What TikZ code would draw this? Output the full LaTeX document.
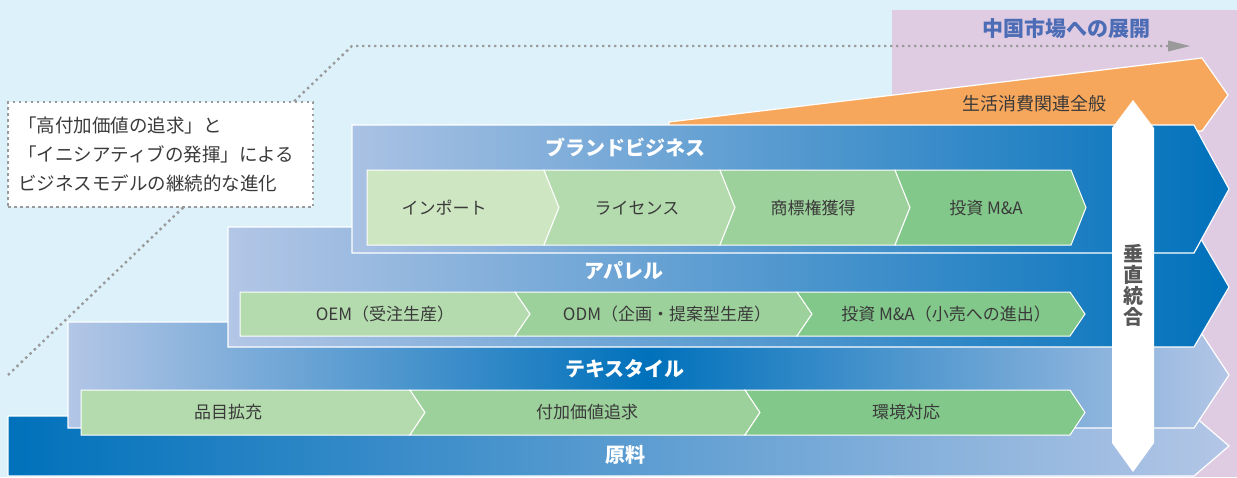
\documentclass[tikz,border=0pt]{standalone}
\usepackage{fontspec}
\setmainfont{Noto Sans CJK JP}
\definecolor{bgblue}{HTML}{DDF1FB}
\definecolor{bgpurple}{HTML}{DFCCE3}
\definecolor{dkblue}{HTML}{0071BB}
\definecolor{ltblue}{HTML}{B3C6E6}
\definecolor{orng}{HTML}{F7A75C}
\definecolor{gA}{HTML}{CFE6C2}
\definecolor{gB}{HTML}{B4DBAE}
\definecolor{gC}{HTML}{9DD19B}
\definecolor{gD}{HTML}{82C88A}
\definecolor{dotgray}{HTML}{9A9A9A}
\definecolor{txtgray}{HTML}{3A3A3A}
\definecolor{titleblue}{HTML}{4C6CB5}
\tikzset{
  layer/.style={draw=white, line width=1.2pt},
  segtext/.style={text=txtgray, font=\fontsize{17}{17}\selectfont, inner sep=0pt},
  laytext/.style={text=white, font=\bfseries\fontsize{20}{20}\selectfont, inner sep=0pt},
  dotline/.style={draw=dotgray, line width=2.4pt, dash pattern=on 2.4pt off 3.6pt},
}
% first segment: straight left edge
\newcommand{\gfirst}[5]{\fill[#1, draw=white, line width=1pt] (#2,#4) -- (#3,#4) -- ({#3+15},{(#4+#5)/2}) -- (#3,#5) -- (#2,#5) -- cycle;}
% later segment: notched left edge
\newcommand{\gnext}[5]{\fill[#1, draw=white, line width=1pt] (#2,#4) -- (#3,#4) -- ({#3+15},{(#4+#5)/2}) -- (#3,#5) -- (#2,#5) -- ({#2+15},{(#4+#5)/2}) -- cycle;}
\begin{document}
\begin{tikzpicture}[x=1pt,y=-1pt]
\useasboundingbox (0,0) rectangle (1237,477);
% backgrounds
\fill[bgblue] (0,0) rectangle (1237,477);
\fill[bgpurple] (892,10) rectangle (1237,477);
\node[font=\bfseries\fontsize{21}{21}\selectfont, text=titleblue, inner sep=0pt] (title) at (1066,29) {中国市場への展開};
% dotted evolution line
\coordinate (ds) at (8,375);
\coordinate (dk) at (352,46);
\coordinate (de) at (1168,46);
\draw[dotline] (ds) -- (dk) -- (de);
\fill[dotgray] (1168,40.5) -- (1190,46) -- (1168,51.5) -- cycle;
% note box
\node[draw=dotgray, line width=2.4pt, dash pattern=on 2.4pt off 3.6pt, fill=white,
      anchor=north west, minimum width=305pt, minimum height=105pt,
      text width=285pt, align=left, inner xsep=10pt, text=txtgray,
      font=\fontsize{18.5}{29}\selectfont] (note) at (7,101)
  {「高付加価値の追求」と\\「イニシアティブの発揮」による\\ビジネスモデルの継続的な進化};
% orange layer
\fill[orng, layer] (669,122) -- (1202,58) -- (1228,95) -- (1202,131) -- (669,131) -- cycle;
\node[segtext, font=\fontsize{18}{18}\selectfont] (life) at (1034,104) {生活消費関連全般};
% raw material layer
\shade[left color=dkblue, right color=ltblue] (8,416) -- (1194,416) -- (1229,446) -- (1194,476) -- (8,476) -- cycle;
\draw[layer] (8,416) -- (1194,416) -- (1229,446) -- (1194,476) -- (8,476) -- cycle;
% textile layer
\shade[left color=ltblue, right color=ltblue, middle color=dkblue] (68,322) -- (1194,322) -- (1229,375) -- (1194,428) -- (68,428) -- cycle;
\draw[layer] (68,322) -- (1194,322) -- (1229,375) -- (1194,428) -- (68,428) -- cycle;
% apparel layer
\shade[left color=ltblue, right color=dkblue] (228,227) -- (1194,227) -- (1229,287) -- (1194,347) -- (228,347) -- cycle;
\draw[layer] (228,227) -- (1194,227) -- (1229,287) -- (1194,347) -- (228,347) -- cycle;
% brand layer
\shade[left color=ltblue!95!dkblue, right color=dkblue] (352,125) -- (1194,125) -- (1229,189) -- (1194,253) -- (352,253) -- cycle;
\draw[layer] (352,125) -- (1194,125) -- (1229,189) -- (1194,253) -- (352,253) -- cycle;
% layer labels
\node[laytext] (brand) at (625,147) {ブランドビジネス};
\node[laytext] (apparel) at (624,271) {アパレル};
\node[laytext] (textile) at (625,369) {テキスタイル};
\node[laytext] (raw) at (625,455) {原料};
% brand row
\gfirst{gA}{367}{544}{170}{245}
\gnext{gB}{544}{720}{170}{245}
\gnext{gC}{720}{895}{170}{245}
\gnext{gD}{895}{1071}{170}{245}
\node[segtext] (b1) at (444,208) {インポート};
\node[segtext] (b2) at (637,208) {ライセンス};
\node[segtext] (b3) at (813,208) {商標権獲得};
\node[segtext] (b4) at (986,208) {投資 M\&A};
% apparel row
\gfirst{gB}{240}{515}{292}{336}
\gnext{gC}{515}{797}{292}{336}
\gnext{gD}{797}{1070}{292}{336}
\node[segtext] (a1) at (385,314) {OEM（受注生産）};
\node[segtext] (a2) at (667,314) {ODM（企画・提案型生産）};
\node[segtext] (a3) at (946,314) {投資 M\&A（小売への進出）};
% textile row
\gfirst{gB}{81}{410}{390}{435}
\gnext{gC}{410}{745}{390}{435}
\gnext{gD}{745}{1070}{390}{435}
\node[segtext] (t1) at (228,412) {品目拡充};
\node[segtext] (t2) at (587,412) {付加価値追求};
\node[segtext] (t3) at (906,412) {環境対応};
% vertical integration arrow
\fill[white] (1133,100) -- (1154,128) -- (1154,443) -- (1133,472) -- (1112,443) -- (1112,128) -- cycle;
\node[font=\bfseries\fontsize{20}{21}\selectfont, text=txtgray!85!white, align=center, inner sep=0pt] (vert) at (1133,285) {垂\\直\\統\\合};
\end{tikzpicture}
\end{document}
